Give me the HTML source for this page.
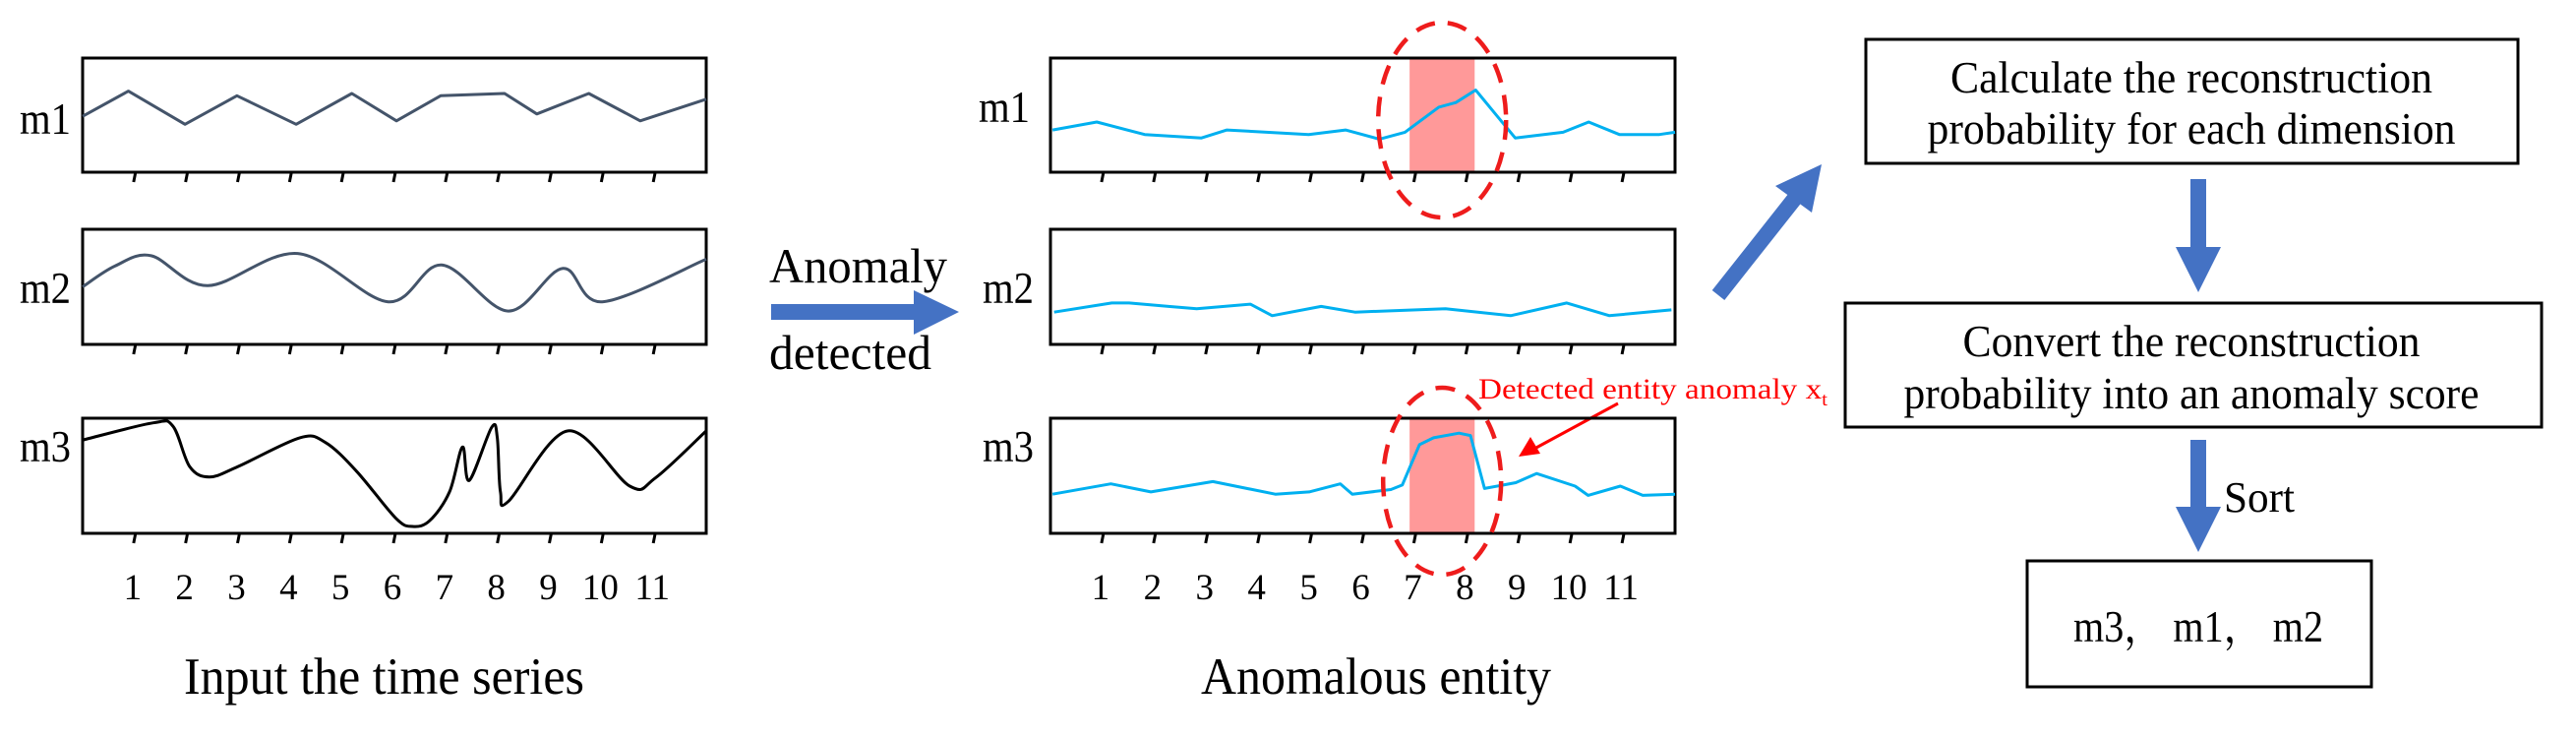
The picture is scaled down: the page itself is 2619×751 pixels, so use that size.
<!DOCTYPE html>
<html><head><meta charset="utf-8"><style>
html,body{margin:0;padding:0;background:#fff;}
svg{display:block;font-family:"Liberation Serif",serif;}
</style></head><body>
<svg id="fig" width="2619" height="751" viewBox="0 0 2619 751">
<g id="static">
<text x="20" y="136" font-size="45" textLength="52" lengthAdjust="spacingAndGlyphs">m1</text>
<text x="20" y="308" font-size="45" textLength="52" lengthAdjust="spacingAndGlyphs">m2</text>
<text x="20" y="469" font-size="45" textLength="52" lengthAdjust="spacingAndGlyphs">m3</text>
<text x="187" y="705" font-size="53" textLength="407" lengthAdjust="spacingAndGlyphs">Input the time series</text>
<text x="782" y="287" font-size="50" textLength="181" lengthAdjust="spacingAndGlyphs">Anomaly</text>
<text x="782" y="375" font-size="50" textLength="165" lengthAdjust="spacingAndGlyphs">detected</text>
<polygon points="784,309 929,309 929,295 975,317 929,340 929,325 784,325" fill="#4472c4"/>
<text x="995" y="124" font-size="45" textLength="52" lengthAdjust="spacingAndGlyphs">m1</text>
<text x="999" y="308" font-size="45" textLength="52" lengthAdjust="spacingAndGlyphs">m2</text>
<text x="999" y="469" font-size="45" textLength="52" lengthAdjust="spacingAndGlyphs">m3</text>
<text x="1221" y="705" font-size="53" textLength="356" lengthAdjust="spacingAndGlyphs">Anomalous entity</text>
<line x1="1747" y1="300" x2="1826" y2="200" stroke="#4472c4" stroke-width="16"/>
<polygon points="1852,167 1805,189 1842,216" fill="#4472c4"/>
<rect x="1897" y="40" width="663" height="126" fill="none" stroke="#000" stroke-width="3"/>
<text x="2228" y="94" font-size="45" text-anchor="middle" textLength="490" lengthAdjust="spacingAndGlyphs">Calculate the reconstruction</text>
<text x="2228" y="146" font-size="45" text-anchor="middle" textLength="537" lengthAdjust="spacingAndGlyphs">probability for each dimension</text>
<rect x="2227" y="182" width="16" height="70" fill="#4472c4"/>
<polygon points="2212,251 2258,251 2235,297" fill="#4472c4"/>
<rect x="1876" y="308" width="708" height="126" fill="none" stroke="#000" stroke-width="3"/>
<text x="2228" y="362" font-size="45" text-anchor="middle" textLength="465" lengthAdjust="spacingAndGlyphs">Convert the reconstruction</text>
<text x="2228" y="415" font-size="45" text-anchor="middle" textLength="585" lengthAdjust="spacingAndGlyphs">probability into an anomaly score</text>
<rect x="2227" y="447" width="16" height="69" fill="#4472c4"/>
<polygon points="2212,515 2258,515 2235,561" fill="#4472c4"/>
<text x="2261" y="520" font-size="44" textLength="72" lengthAdjust="spacingAndGlyphs">Sort</text>
<rect x="2061" y="570" width="350" height="128" fill="none" stroke="#000" stroke-width="3"/>
<text x="2108" y="652" font-size="45" textLength="254" lengthAdjust="spacingAndGlyphs" font-family="Liberation Serif, Noto Serif CJK SC, serif">m3， m1， m2</text>
<text x="1503" y="405" font-size="30" fill="#ff0000" textLength="355" lengthAdjust="spacingAndGlyphs">Detected entity anomaly x<tspan font-size="19" dy="7">t</tspan></text>
<line x1="1645" y1="410" x2="1560" y2="456" stroke="#ff0000" stroke-width="3"/>
<polygon points="1544,464 1556,444 1566,461" fill="#ff0000"/>
</g>
<g id="dyn"></g>
</svg>
<script>
const tickLabels = ["1","2","3","4","5","6","7","8","9","10","11"];
const inM1T = [0,0.88,1.97,2.97,4.11,5.18,6.04,6.89,8.12,8.74,9.74,10.73,12];
const inM1V = [0.49,0.71,0.42,0.67,0.42,0.69,0.45,0.67,0.69,0.51,0.69,0.45,0.64];
const inM2T = [0,0.62,1.32,2.41,4.14,5.88,6.91,8.19,9.24,10.0,12];
const inM2V = [0.50,0.68,0.77,0.51,0.79,0.37,0.69,0.29,0.66,0.37,0.74];
const inM3T = [0,1.36,1.74,2.06,2.44,2.99,4.18,4.67,5.27,6.03,6.35,6.68,7.06,7.31,7.44,7.87,7.98,8.04,8.2,9.34,10.53,11.02,12];
const inM3V = [0.81,0.96,0.93,0.58,0.49,0.58,0.83,0.79,0.54,0.13,0.06,0.11,0.36,0.75,0.46,0.92,0.83,0.36,0.28,0.89,0.41,0.48,0.89];
const outM1T = [0.04,0.89,1.81,2.90,3.39,4.96,5.67,6.32,6.81,7.46,7.79,8.17,8.93,9.85,10.34,10.93,11.7,12];
const outM1V = [0.37,0.44,0.33,0.30,0.37,0.33,0.37,0.29,0.35,0.57,0.61,0.72,0.30,0.35,0.44,0.33,0.33,0.35];
const outM2T = [0.07,1.18,1.51,2.27,2.81,3.84,4.26,5.20,5.85,7.59,8.84,9.92,10.74,11.93];
const outM2V = [0.28,0.36,0.36,0.33,0.31,0.35,0.25,0.33,0.28,0.31,0.25,0.36,0.25,0.30];
const outM3T = [0.04,1.16,1.93,3.12,4.32,4.97,5.57,5.8,6.54,6.76,7.09,7.36,7.85,8.07,8.34,8.94,9.34,10.08,10.33,10.95,11.38,12];
const outM3V = [0.34,0.43,0.36,0.45,0.34,0.36,0.43,0.34,0.38,0.42,0.77,0.83,0.87,0.85,0.39,0.44,0.52,0.41,0.33,0.41,0.33,0.34];
const anomalyStart = [6.9];
const anomalyEnd = [8.15];

const NS = "http://www.w3.org/2000/svg";
const dyn = document.getElementById("dyn");
function mk(tag, attrs){ const e=document.createElementNS(NS,tag); for(const k in attrs) e.setAttribute(k,attrs[k]); dyn.appendChild(e); return e; }
const rows = [[59,175],[233,350],[425,542]];
function xScale(p,t){ return p.x0 + t*(p.x1-p.x0)/12; }
function yScale(r,v){ return r[1] - v*(r[1]-r[0]); }
function linePath(p,r,T,V){ return T.map((t,i)=>(i?"L":"M")+xScale(p,t).toFixed(1)+","+yScale(r,V[i]).toFixed(1)).join(" "); }
function smoothPath(p,r,T,V){
  const P=T.map((t,i)=>[xScale(p,t),yScale(r,V[i])]);
  let d="M"+P[0][0].toFixed(1)+","+P[0][1].toFixed(1);
  for(let i=0;i<P.length-1;i++){
    const p0=P[Math.max(0,i-1)],p1=P[i],p2=P[i+1],p3=P[Math.min(P.length-1,i+2)];
    const c1=[p1[0]+(p2[0]-p0[0])/6,p1[1]+(p2[1]-p0[1])/6];
    const c2=[p2[0]-(p3[0]-p1[0])/6,p2[1]-(p3[1]-p1[1])/6];
    d+=` C${c1[0].toFixed(1)},${c1[1].toFixed(1)} ${c2[0].toFixed(1)},${c2[1].toFixed(1)} ${p2[0].toFixed(1)},${p2[1].toFixed(1)}`;
  }
  return d;
}
const left={x0:84,x1:718}, right={x0:1068,x1:1703};

function panel(p, side, series, smooth, colors){
  rows.forEach((r,ri)=>{
    if(side==="right" && ri!==1){
      const hl=mk("rect",{x:xScale(p,anomalyStart[0]),y:r[0],width:xScale(p,anomalyEnd[0])-xScale(p,anomalyStart[0]),height:r[1]-r[0],fill:"#ff9999"});
      
      
    }
    const fr=mk("rect",{x:p.x0,y:r[0],width:p.x1-p.x0,height:r[1]-r[0],fill:"none",stroke:"#000","stroke-width":3});
    
    
    tickLabels.forEach((lab,i)=>{
      const x=xScale(p,i+1);
      const tk=mk("line",{x1:x+1,y1:r[1],x2:x-1,y2:r[1]+10,stroke:"#000","stroke-width":3});
      
      
    });
    const [T,V]=series[ri];
    const ln=mk("path",{d:(smooth[ri]?smoothPath:linePath)(p,r,T,V),fill:"none",stroke:colors[ri],"stroke-width":3,"stroke-linejoin":"round"});
    
    
  });
  tickLabels.forEach((lab,i)=>{
    const tx=mk("text",{x:xScale(p,i+1)-2,y:609,"font-size":37,"text-anchor":"middle"});
    tx.textContent=lab;
    
    
  });
}
panel(left,"left",[[inM1T,inM1V],[inM2T,inM2V],[inM3T,inM3V]],[false,true,true],["#44546a","#44546a","#000"]);
panel(right,"right",[[outM1T,outM1V],[outM2T,outM2V],[outM3T,outM3V]],[false,false,false],["#00b0f0","#00b0f0","#00b0f0"]);
[[0,122,65,99],[2,489,60,95]].forEach(e=>{
  const cx=(xScale(right,anomalyStart[0])+xScale(right,anomalyEnd[0]))/2;
  const el=mk("ellipse",{cx:cx,cy:e[1],rx:e[2],ry:e[3],fill:"none",stroke:"#ee1c1c","stroke-width":4.5,"stroke-dasharray":"20 13"});
  
  
});
</script>
</body></html>
